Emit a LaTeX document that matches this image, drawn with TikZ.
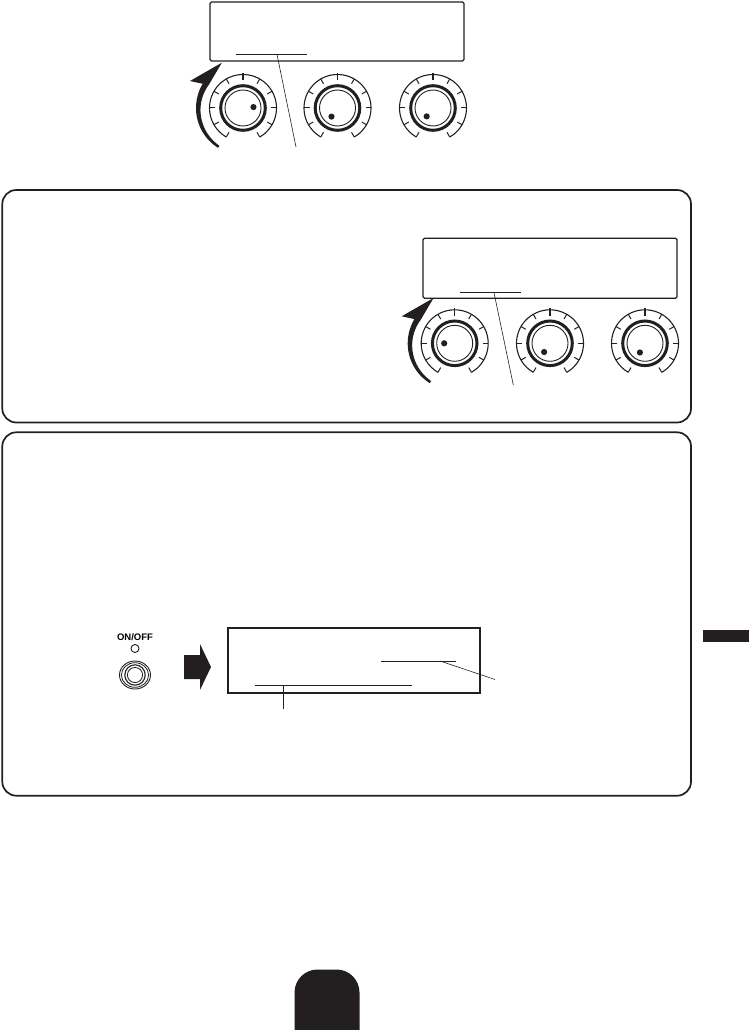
\documentclass[tikz,border=0pt]{standalone}
\usepackage{fontspec}
\setmainfont{Liberation Sans}
\usetikzlibrary{calc}
\definecolor{ink}{HTML}{231F20}
\tikzset{
  panel/.style={draw=ink,line width=1.7pt,rounded corners=14pt},
  display/.style={draw=ink,line width=1.2pt,rounded corners=1.5pt,inner sep=0pt},
  bigdisplay/.style={draw=ink,line width=1.8pt,inner sep=0pt},
  uline/.style={draw=ink,line width=0.8pt},
  leader/.style={draw=ink,line width=0.6pt},
  scaleline/.style={draw=ink,line width=1.1pt},
  tickline/.style={draw=ink,line width=1pt},
}
\newcommand\drawknob[3]{%
\begin{scope}[shift={(#1,#2)},yscale=-1]
  \draw[scaleline] (-60:33.5) arc[start angle=-60,end angle=240,radius=33.5];
  \foreach \a in {-60,-30,...,240}{\draw[tickline] (\a:33.5)--(\a:28);}
  \draw[ink,line width=1.4pt] (90:35)--(90:27.5);
  \draw[ink,line width=3pt] (0,0) circle[radius=22.3];
  \draw[ink,line width=0.9pt] (0,0) circle[radius=18];
  \fill[ink] (#3:10.5) circle[radius=3.1];
\end{scope}}
\newcommand\rotarrow[2]{%
\begin{scope}[shift={(#1,#2)},yscale=-1]
  \fill[ink] plot[domain=238:149,samples=30] (\x:47) -- (153:59.5) -- (115:50) -- (146:41.3)
     -- plot[domain=146:238,samples=30] (\x:{41.3+(\x-146)/92*3.2}) -- cycle;
\end{scope}}
\begin{document}
\begin{tikzpicture}[x=1pt,y=-1pt]
\useasboundingbox (0,0) rectangle (749,1030);
% ---------- top display and knobs
\node[display,minimum width=254,minimum height=59] (d1) at (337,31.5) {};
\coordinate (u1a) at (236,54.5); \coordinate (u1b) at (307,54.5);
\draw[uline] (u1a) -- (u1b);
\coordinate (l1a) at (277,54.5); \coordinate (l1b) at (296,147);
\draw[leader] (l1a) -- (l1b);
\drawknob{243}{108}{5}
\drawknob{337.5}{108}{235}
\drawknob{433}{108}{233}
\rotarrow{243}{108}
% ---------- panel 1
\draw[panel] (2.3,190) rectangle (691,422.5);
\node[display,minimum width=254,minimum height=60] (d2) at (550,268.3) {};
\coordinate (u2a) at (460,292.7); \coordinate (u2b) at (521,292.7);
\draw[uline] (u2a) -- (u2b);
\coordinate (l2a) at (494,292.7); \coordinate (l2b) at (513.3,385);
\draw[leader] (l2a) -- (l2b);
\drawknob{454.7}{343.3}{180}
\drawknob{550}{343.3}{236}
\drawknob{645}{343.3}{241}
\rotarrow{454.7}{343.3}
% ---------- panel 2
\draw[panel] (2.3,432.3) rectangle (691,795.7);
\node[font=\fontsize{9.5}{10}\selectfont\bfseries,inner sep=0pt] (onoff) at (135,637.5) {ON/OFF};
\draw[ink,line width=0.9pt] (135,648.5) circle[radius=4];
\coordinate (sw) at (135,675);
\draw[ink,line width=0.9pt] (sw) ellipse[x radius=15.5,y radius=14];
\draw[ink,line width=0.8pt] (sw) ellipse[x radius=13.6,y radius=12.3];
\draw[ink,line width=1.1pt] (sw) circle[radius=10.2];
\draw[ink,line width=0.8pt] (sw) circle[radius=7.6];
\fill[ink] (184,655)--(200,655)--(200,644)--(211,667)--(200,690)--(200,679)--(184,679)--cycle;
\node[bigdisplay,minimum width=252,minimum height=64.5] (d3) at (354,660.5) {};
\coordinate (u3a) at (381,661); \coordinate (u3b) at (456,661);
\draw[uline] (u3a) -- (u3b);
\coordinate (l3a) at (440,661); \coordinate (l3b) at (495,679.5);
\draw[leader] (l3a) -- (l3b);
\coordinate (u4a) at (254.5,685.7); \coordinate (u4b) at (412,685.7);
\draw[uline] (u4a) -- (u4b);
\coordinate (l4a) at (283.3,685.7); \coordinate (l4b) at (283.3,708.5);
\draw[leader] (l4a) -- (l4b);
% ---------- side tab and bottom tab
\fill[ink] (703,630) rectangle (749,642);
\fill[ink,rounded corners=23pt] (294.5,1030) -- (294.5,969.5) -- (359.5,969.5) -- (359.5,1030);
\end{tikzpicture}
\end{document}
